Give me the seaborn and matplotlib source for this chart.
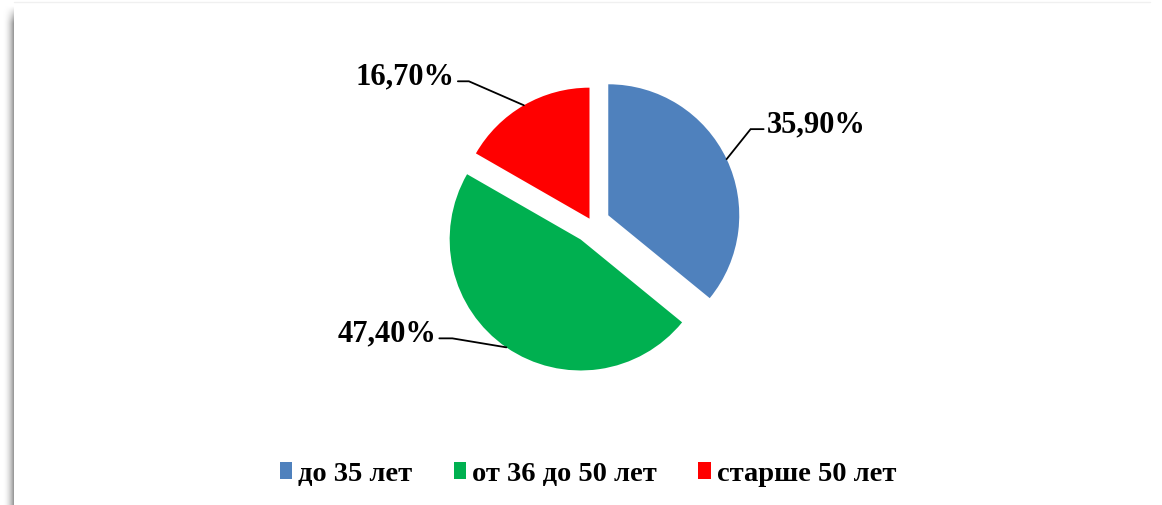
import numpy as np
import matplotlib
matplotlib.use("Agg")
import matplotlib.pyplot as plt
import seaborn as sns

# ---- data ----
categories = ["до 35 лет", "от 36 до 50 лет", "старше 50 лет"]
values = [35.9, 47.4, 16.7]
value_labels = ["35,90%", "47,40%", "16,70%"]
colors = ["#4F81BD", "#00B050", "#FF0000"]

sns.set_theme(style="white")
plt.rcParams["font.family"] = ["Liberation Serif", "DejaVu Serif"]

W, H = 1162, 506
fig = plt.figure(figsize=(W / 100, H / 100), dpi=100)
ax = fig.add_axes([0, 0, 1, 1])

R = 131
center = (592, 282)
explode = [18, 20, 5]  # data units (pixels)

wedges, _ = ax.pie(values, explode=explode, colors=colors, startangle=90,
                   counterclock=False, radius=R, center=center,
                   wedgeprops=dict(linewidth=0))

ax.set_xlim(0, W)
ax.set_ylim(0, H)
ax.set_aspect("equal")
ax.axis("off")

# leader-line layout: (elbow dx, elbow dy, horizontal run, side)
layout = [(24, 30, 13, 1), (-54, 9, -13, -1), (-55, 24, -11, -1)]
for w, lab, (edx, edy, hrun, side) in zip(wedges, value_labels, layout):
    th = np.deg2rad((w.theta1 + w.theta2) / 2)
    cx, cy = w.center
    ax0, ay0 = cx + w.r * np.cos(th), cy + w.r * np.sin(th)
    ex, ey = ax0 + edx, ay0 + edy
    fx = ex + hrun
    ax.plot([ax0, ex, fx], [ay0, ey, ey], color="black", lw=1.3,
            solid_joinstyle="miter")
    ax.text(fx + 3 * side, ey - 2, lab, ha="left" if side > 0 else "right",
            va="baseline", fontsize=22, fontweight="bold", color="black")

# legend
leg = ax.legend(wedges, categories, loc="center", bbox_to_anchor=(0.506, 31 / H),
                ncol=3, frameon=False, handlelength=0.43, handleheight=0.55,
                handletextpad=0.22, columnspacing=1.45, labelcolor="black",
                prop=dict(family="Liberation Serif", weight="bold", size=20.5))

# left shadow strip of the frame
nx, ny = 24, 200
t = np.linspace(0, 1, nx)
row = 1 - 0.42 * t ** 2.2
img = np.tile(row, (ny, 1))
fade = np.clip(np.linspace(0, 1, ny) * 30, 0, 1)[:, None]
img = 1 - (1 - img) * fade
ax.imshow(img, cmap="gray", vmin=0, vmax=1, extent=[2, 14, 0, H - 6],
          aspect="auto", origin="upper", interpolation="bilinear", zorder=0)
ax.plot([14, 1150], [H - 2.5, H - 2.5], color="#f0f0f0", lw=1)

ax.set_xlim(0, W)
ax.set_ylim(0, H)
fig.savefig("out.png", dpi=100, facecolor="white")
